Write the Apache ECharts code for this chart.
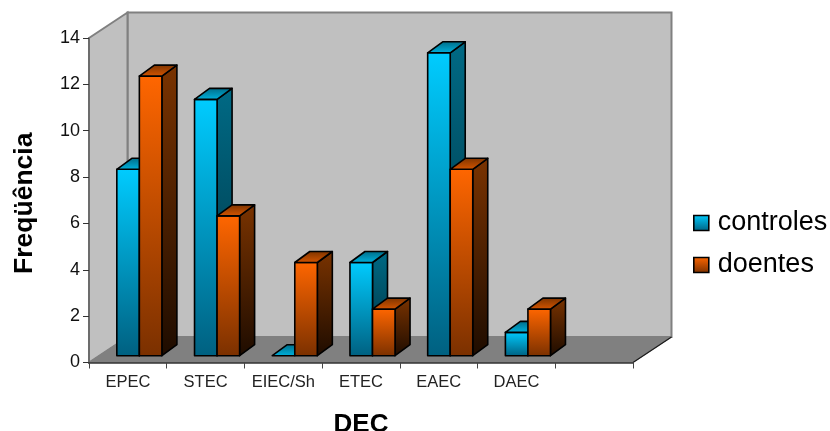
<!DOCTYPE html>
<html>
<head>
<meta charset="utf-8">
<style>html,body{margin:0;padding:0;background:#fff}#chart{width:830px;height:431px}</style>
<script src="https://cdn.jsdelivr.net/npm/echarts@6/dist/echarts.min.js"></script>
</head>
<body>
<div id="chart"></div>
<script>
// Frequency of each DEC pathotype among controls and patients
const categories = ['EPEC', 'STEC', 'EIEC/Sh', 'ETEC', 'EAEC', 'DAEC', ''];
const controles = [8, 11, 0, 4, 13, 1];
const doentes = [12, 6, 4, 2, 8, 2];
const yTicks = { min: 0, max: 14, interval: 2 };

const chart = echarts.init(document.getElementById('chart'), null, { renderer: 'canvas' });
const { LinearGradient } = echarts.graphic;
const vGrad = (a, b) => new LinearGradient(0, 0, 0, 1, [{ offset: 0, color: a }, { offset: 1, color: b }]);

const wallDepth = [38.5, -25.5];
const barDepth = [15, -11];
const palette = {
  controles: { front: ['#00ccff', '#006080'], side: ['#006a85', '#00303f'], top: ['#006a85', '#00b4e0'] },
  doentes: { front: ['#ff6600', '#7a3000'], side: ['#7a3300', '#1e0c00'], top: ['#7a3300', '#d85600'] }
};

// Back wall, side wall and floor of the 3D box, extruded from the front axes
function renderWalls(params, api) {
  const bl = api.coord([0, 0]);
  const band = api.size([1, 0])[0];
  const right = bl[0] - band / 2 + band * categories.length;
  const x0 = bl[0] - band / 2;
  const y0 = bl[1];
  const yt = api.coord([0, yTicks.max])[1];
  const [dx, dy] = wallDepth;
  const poly = (points, style) => ({ type: 'polygon', shape: { points }, style });
  return {
    type: 'group',
    children: [
      poly([[x0 + dx, yt + dy], [right + dx, yt + dy], [right + dx, y0 + dy], [x0 + dx, y0 + dy]],
        { fill: '#c0c0c0', stroke: '#808080', lineWidth: 2 }),
      poly([[x0, yt], [x0 + dx, yt + dy], [x0 + dx, y0 + dy], [x0, y0]],
        { fill: '#c0c0c0', stroke: '#808080', lineWidth: 2 }),
      poly([[x0, y0], [right, y0], [right + dx, y0 + dy], [x0 + dx, y0 + dy]],
        { fill: '#808080', stroke: '#808080', lineWidth: 1 }),
      { type: 'line', shape: { x1: right, y1: y0, x2: right + dx, y2: y0 + dy },
        style: { stroke: '#1a1a1a', lineWidth: 1.2 } }
    ]
  };
}

// One extruded bar: front face, side face and top face
function barRenderer(colors, slot) {
  return function (params, api) {
    const cat = api.value(0);
    const top = api.coord([cat, api.value(1)]);
    const base = api.coord([cat, 0]);
    const w = api.size([1, 0])[0] * 0.29;
    const x = top[0] + (slot - 1) * w;
    const [dx, dy] = barDepth;
    const edge = { stroke: '#000', lineWidth: 1.6, lineJoin: 'round' };
    const face = (points, stops) => ({ type: 'polygon', shape: { points }, style: { ...edge, fill: vGrad(stops[0], stops[1]) } });
    const children = [];
    if (base[1] - top[1] > 0.5) {
      children.push(face([[x + w, top[1]], [x + w + dx, top[1] + dy], [x + w + dx, base[1] + dy], [x + w, base[1]]], colors.side));
      children.push(face([[x, top[1]], [x + w, top[1]], [x + w, base[1]], [x, base[1]]], colors.front));
    }
    children.push(face([[x, top[1]], [x + dx, top[1] + dy], [x + w + dx, top[1] + dy], [x + w, top[1]]], colors.top));
    return { type: 'group', children };
  };
}

const axisFont = 'Liberation Sans';
const option = {
  animation: false,
  backgroundColor: '#fff',
  textStyle: { fontFamily: axisFont },
  legend: {
    orient: 'vertical',
    left: 688,
    top: 203,
    itemWidth: 15,
    itemHeight: 15,
    itemGap: 12,
    selectedMode: false,
    textStyle: { fontSize: 27, color: '#000', fontFamily: axisFont, lineHeight: 30, padding: [0, 0, 0, 4] },
    data: [
      { name: 'controles', icon: 'rect', itemStyle: { color: vGrad('#00ccff', '#006080'), borderColor: '#000', borderWidth: 1.6 } },
      { name: 'doentes', icon: 'rect', itemStyle: { color: vGrad('#ff6600', '#7a3000'), borderColor: '#000', borderWidth: 1.6 } }
    ]
  },
  grid: [
    // front plane carrying the visible axes
    { left: 89, top: 38, width: 544, height: 324.5, outerBoundsMode: 'none' },
    // middle plane of the box, where the bars stand
    { left: 100.5, top: 29.5, width: 544, height: 326.2, outerBoundsMode: 'none' }
  ],
  xAxis: [
    {
      type: 'category', gridIndex: 0, data: categories, z: 4,
      axisLine: { lineStyle: { color: '#333', width: 1.5 } },
      axisTick: { show: true, length: 6, lineStyle: { color: '#444', width: 1 }, alignWithLabel: false },
      axisLabel: { fontSize: 16.5, color: '#222', margin: 11, interval: 0 },
      name: 'DEC', nameLocation: 'middle', nameGap: 49,
      nameTextStyle: { fontSize: 26, fontWeight: 'bold', color: '#000' }
    },
    { type: 'category', gridIndex: 1, data: categories, show: false }
  ],
  yAxis: [
    {
      type: 'value', gridIndex: 0, ...yTicks, z: 4,
      splitLine: { show: false },
      axisLine: { show: true, lineStyle: { color: '#666', width: 1.5 } },
      axisTick: { show: true, length: 6, lineStyle: { color: '#333', width: 1 } },
      axisLabel: { fontSize: 18, color: '#111', margin: 9 },
      name: 'Freqüência', nameLocation: 'middle', nameGap: 51,
      nameTextStyle: { fontSize: 26.5, fontWeight: 'bold', color: '#000', padding: [0, 6, 0, 0] }
    },
    { type: 'value', gridIndex: 1, ...yTicks, show: false }
  ],
  series: [
    {
      name: 'box', type: 'custom', xAxisIndex: 0, yAxisIndex: 0, z: 1, silent: true,
      data: [[0, 0]], renderItem: renderWalls, encode: { x: 0, y: 1 }, clip: false
    },
    {
      name: 'controles', type: 'custom', xAxisIndex: 1, yAxisIndex: 1, z: 5, clip: false,
      itemStyle: { color: '#00ccff' },
      data: controles.map((v, i) => [i, v]), encode: { x: 0, y: 1 },
      renderItem: barRenderer(palette.controles, 0)
    },
    {
      name: 'doentes', type: 'custom', xAxisIndex: 1, yAxisIndex: 1, z: 6, clip: false,
      itemStyle: { color: '#ff6600' },
      data: doentes.map((v, i) => [i, v]), encode: { x: 0, y: 1 },
      renderItem: barRenderer(palette.doentes, 1)
    }
  ]
};
chart.setOption(option);
</script>
</body>
</html>
